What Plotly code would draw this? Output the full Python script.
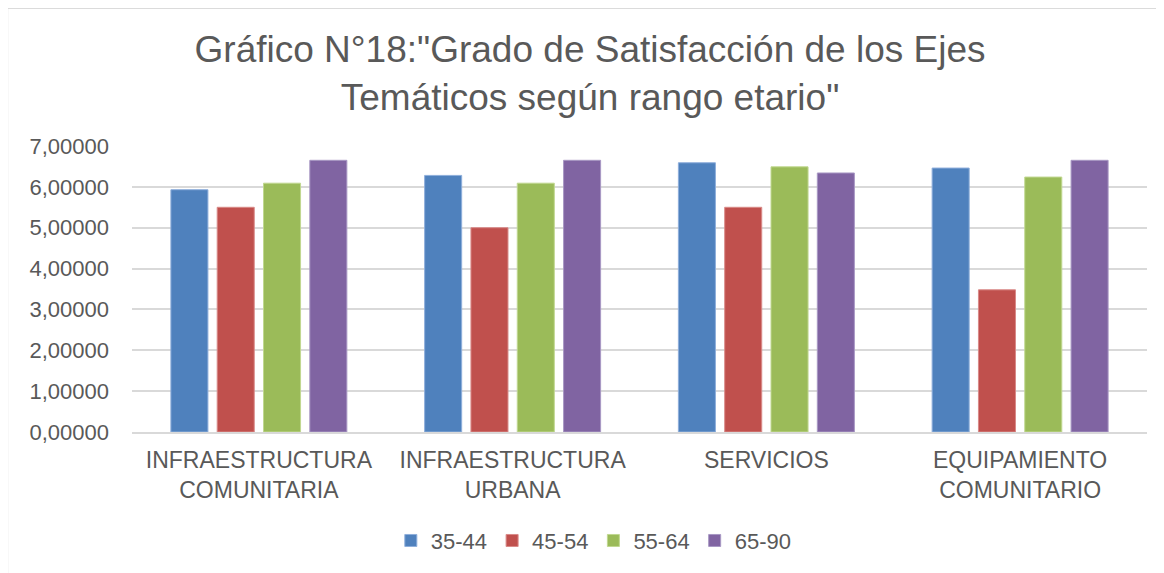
import plotly.graph_objects as go

# ejes temáticos y rangos etarios
categorias = ["INFRAESTRUCTURA<br>COMUNITARIA", "INFRAESTRUCTURA<br>URBANA",
              "SERVICIOS", "EQUIPAMIENTO<br>COMUNITARIO"]
rangos = ["35-44", "45-54", "55-64", "65-90"]

r_35_44 = [5.93, 6.28, 6.59, 6.46]
r_45_54 = [5.50, 5.00, 5.50, 3.48]
r_55_64 = [6.09, 6.09, 6.49, 6.24]
r_65_90 = [6.65, 6.65, 6.34, 6.65]

valores = [r_35_44, r_45_54, r_55_64, r_65_90]
colores = ["#4f81bd", "#c0504d", "#9bbb59", "#8064a2"]
bordes = ["#8eaedb", "#d98a88", "#c0d890", "#a898c4"]

gris = "#595959"
fuente = "Liberation Sans, Arial, sans-serif"

fig = go.Figure()
for nombre, vals, col, borde in zip(rangos, valores, colores, bordes):
    fig.add_trace(go.Bar(
        x=categorias, y=vals, name=nombre,
        marker=dict(color=col, line=dict(color=borde, width=1))
    ))

# la página tiene un margen de 8px, se compensa en el tamaño
fig.update_layout(
    width=1156, height=565,
    margin=dict(l=124, r=17, t=138, b=137),
    paper_bgcolor="white", plot_bgcolor="white",
    barmode="group", bargap=0.27, bargroupgap=0.2,
    separators=",.",
    font=dict(family=fuente, color=gris, size=22),
    title=dict(
        text='Gráfico N°18:"Grado de Satisfacción de los Ejes<br>Temáticos según rango etario"',
        x=0.5035, xref="container", xanchor="center",
        y=0.905, yanchor="middle",
        font=dict(family=fuente, size=37, color=gris),
    ),
    legend=dict(
        orientation="h", x=0.455, xanchor="center",
        y=-0.38, yanchor="middle",
        font=dict(size=22, color=gris),
        itemwidth=30, traceorder="normal",
    ),
    showlegend=True,
)

fig.update_yaxes(
    range=[0, 7], dtick=1, tickformat=".5f",
    showgrid=True, gridcolor="#d9d9d9", gridwidth=2,
    zeroline=False, showline=False,
    ticklabelstandoff=22,
    tickfont=dict(size=22, color=gris),
)
fig.update_xaxes(
    showline=True, linecolor="#d9d9d9", linewidth=2,
    tickfont=dict(size=23, color=gris),
    ticklabelstandoff=6,
)

# marco del gráfico
fig.add_shape(
    type="rect", xref="paper", yref="paper",
    x0=-0.123, x1=1.2, y0=-1.0, y1=1.483,
    line=dict(color="#d0d0d0", width=2), fillcolor="rgba(0,0,0,0)",
    layer="below",
)

fig.write_html("out.html")
